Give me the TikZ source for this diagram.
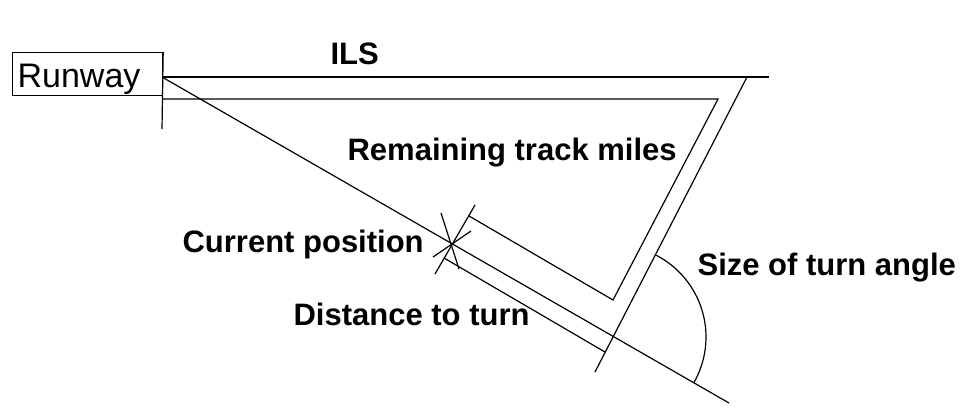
\documentclass[tikz,border=0pt]{standalone}
\usepackage{fontspec}
\setmainfont{Liberation Sans}
\begin{document}
\begin{tikzpicture}[x=1pt, y=-1pt, line width=1.2pt,
  lbl/.style={anchor=base west, inner sep=0pt,
              font=\fontsize{31}{36}\selectfont\bfseries}]
  \useasboundingbox (0,0) rectangle (963,417);
  \node (rwy) [draw, anchor=north west, minimum width=150pt, minimum height=43pt,
              text width=140pt, inner xsep=5pt, inner ysep=0pt, align=left,
              text height=34pt, text depth=7pt,
              font=\fontsize{34}{40}\selectfont] at (12,52) {Runway};
  % track points
  \coordinate (rwyfoot) at (162,129);
  \coordinate (thr) at (162,77);
  \coordinate (ilsend) at (769,77);
  \coordinate (trk) at (162,99);
  \coordinate (base) at (718,99);
  \coordinate (corner) at (613,300);
  \coordinate (fin) at (747,77);
  \coordinate (finend) at (595,372);
  \coordinate (diagend) at (729,403);
  \coordinate (turn) at (614,337);
  % current position marks
  \coordinate (pos) at (453,243);
  \coordinate (tickA) at (475,205);
  \coordinate (tickB) at (435,274);
  \coordinate (remA) at (469,216);
  \coordinate (distA) at (444,258);
  \coordinate (distB) at (605,352);
  \coordinate (starA) at (441,213);
  \coordinate (starB) at (459,269);
  \coordinate (starC) at (471,231);
  \coordinate (starD) at (433,257);

  \draw (rwy.north east) -- (rwyfoot);
  \draw (thr) -- (ilsend);
  \draw (trk) -- (base) -- (corner) -- (remA);
  \draw (fin) -- (finend);
  \draw (thr) -- (diagend);
  \draw (tickA) -- (tickB);
  \draw (starA) -- (starB);
  \draw (starC) -- (starD);
  \draw (distA) -- (distB);
  \draw (turn) ++(-62.7:92) arc[start angle=-62.7, end angle=29.9, radius=92];

  \node (ils) [lbl] at (330,65) {ILS};
  \node (rem) [lbl] at (347,160) {Remaining track miles};
  \node (cur) [lbl] at (182,252) {Current position};
  \node (dist) [lbl] at (293,325) {Distance to turn};
  \node (ang) [lbl] at (697,275) {Size of turn angle};
\end{tikzpicture}
\end{document}
